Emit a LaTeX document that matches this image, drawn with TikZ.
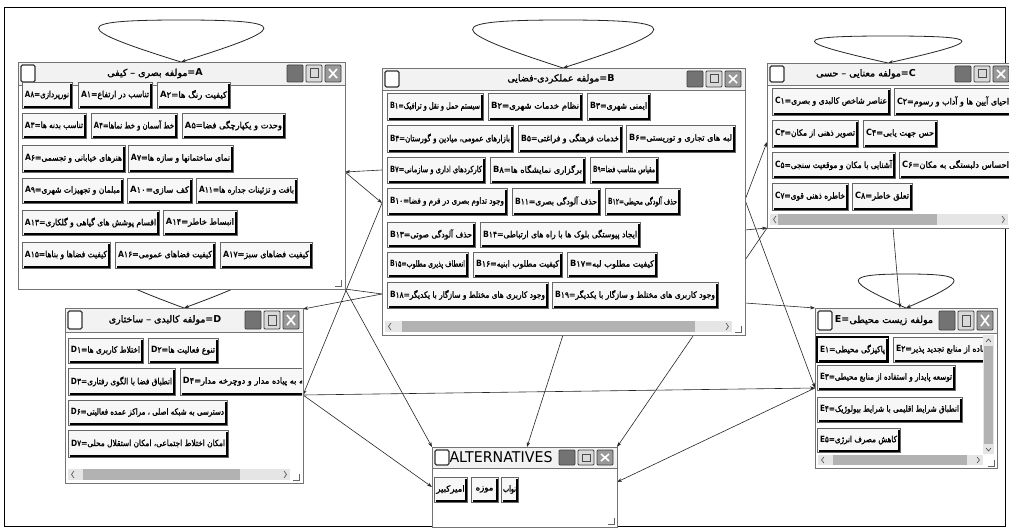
\documentclass[tikz,border=0pt]{standalone}
\usepackage{fontspec}
\usepackage{graphicx}
\usetikzlibrary{arrows.meta,calc}
\TeXXeTstate=1
\newfontfamily\pfont[Script=Arabic]{DejaVu Sans}
\newfontfamily\pfontb[Script=Arabic,FakeBold=1.5]{DejaVu Sans}
\newfontfamily\latf{DejaVu Sans}
\newsavebox\myfitbox
\newdimen\myfitw
\newcommand\myfit[2]{\myfitw=\dimexpr #1\relax\sbox\myfitbox{#2}\ifdim\wd\myfitbox>\myfitw\resizebox{\myfitw}{\height}{\usebox\myfitbox}\else\usebox\myfitbox\fi}
\newcommand\mycode[2]{\hbox{\hbox{\latf\bfseries #1}\hbox{\pfontb #2}\hbox{\pfontb =}}}
\tikzset{
 winbox/.style={draw=black!55,fill=white,line width=1.2pt,inner sep=0pt},
 titlebar/.style={draw=black!55,fill=black!5,line width=0.8pt},
 icon/.style={draw=black!80,fill=white,line width=1.3pt,rounded corners=1.5pt},
 tbtn/.style={draw=black!75,line width=0.8pt,rounded corners=1pt},
 btn/.style={draw=black!60,fill=black!3,line width=0.5pt,inner sep=0pt,font=\fontsize{8.6}{9}\selectfont},
 btnsh/.style={draw=black,line width=2.2pt},
 conn/.style={draw=black!85,line width=0.6pt},
 arr/.style={conn,-{Stealth[length=5pt,width=3.5pt]}},
 loopline/.style={draw=black!85,line width=0.8pt,-{Stealth[length=5pt,width=3.5pt]}},
 ttl/.style={inner sep=0pt,font=\fontsize{9.5}{10}\selectfont},
 scroll/.style={fill=black!10},
 thumb/.style={fill=black!30},
}
\newcommand\mywin[8]{%
 \node[winbox,anchor=north west,minimum width={(#4-#2)*1pt},minimum height={(#5-#3)*1pt}] (#1) at (#2,#3) {};
 \draw[titlebar] (#2,#3) rectangle (#4,#6);
 \draw[icon] ({#2+3},{#3+3}) rectangle ({#2+17},{#6-3});
 \draw[tbtn,fill=black!55] ({#4-58},{#3+3}) rectangle ({#4-42},{#6-3});
 \draw[tbtn,fill=black!15] ({#4-39},{#3+3}) rectangle ({#4-23},{#6-3});
 \draw[black!70,line width=1pt] ({#4-35},{#3+7}) rectangle ({#4-27},{#6-7});
 \draw[tbtn,fill=black!40] ({#4-20},{#3+3}) rectangle ({#4-4},{#6-3});
 \draw[white,line width=1.6pt] ({#4-16},{#3+7}) -- ({#4-8},{#6-7}) ({#4-16},{#6-7}) -- ({#4-8},{#3+7});
 \node[ttl] (#1title) at (#8,{(#3+#6)/2}) {#7};
}
\newcommand\mybt[8]{%
 \node[btn,minimum width={(#4-#2)*1pt},minimum height={(#5-#3)*1pt}] (#1) at ({(#2+#4)/2},{(#3+#5)/2}) {\myfit{#4pt-#2pt-6pt}{\mycode{#6}{#7}\hbox{\pfontb #8}}};
 \draw[btnsh] ([shift={(2pt,1pt)}]#1.south west) -- ([shift={(-1pt,1pt)}]#1.south east) -- ([shift={(-1pt,-2pt)}]#1.north east);
}
\newcommand\mybtp[6]{%
 \node[btn,minimum width={(#4-#2)*1pt},minimum height={(#5-#3)*1pt}] (#1) at ({(#2+#4)/2},{(#3+#5)/2}) {\myfit{#4pt-#2pt-4pt}{\pfontb #6}};
 \draw[btnsh] ([shift={(2pt,1pt)}]#1.south west) -- ([shift={(-1pt,1pt)}]#1.south east) -- ([shift={(-1pt,-2pt)}]#1.north east);
}
\newcommand\mylp[5]{%
 \coordinate (#1) at (#2,#3);
 \draw[loopline] (#1) .. controls ({#2-1.3*#4},{#3-0.8*#5}) and ({#2-1.35*#4},{#3-#5}) .. ({#2},{#3-#5}) .. controls ({#2+1.35*#4},{#3-#5}) and ({#2+1.3*#4},{#3-0.8*#5}) .. (#1);
}
\newcommand\myhscr[6]{%
 \fill[scroll] (#1,#3) rectangle (#2,#4);
 \fill[thumb] (#5,#3) rectangle (#6,#4);
 \draw[black!70,line width=0.6pt] ({#1+6},{#3+2}) -- ({#1+3.5},{(#3+#4)/2}) -- ({#1+6},{#4-2});
 \draw[black!70,line width=0.6pt] ({#2-6},{#3+2}) -- ({#2-3.5},{(#3+#4)/2}) -- ({#2-6},{#4-2});
}
\newcommand\mygrip[2]{\draw[black!60,line width=0.8pt] ({#1-6},#2) -- (#1,#2) -- (#1,{#2-6});}
\begin{document}
\begin{tikzpicture}[x=1pt,y=-1pt]
\useasboundingbox (0,0) rectangle (1009,529);
\fill[white] (0,0) rectangle (1009,529);
\clip (0,0) rectangle (1009,529);
\draw[black,line width=1pt] (4,8) rectangle (1005,526);
% self loops
\mylp{Ap}{181}{62}{83}{42}
\mylp{Bp}{563}{68}{91}{48}
\mylp{Cp}{888}{63}{74}{27}
\mylp{Dp}{184}{308}{75}{45}
\mylp{Ep}{906}{308}{48}{34}
% connector end points
\coordinate (aR) at (345,172);
\coordinate (bL7) at (382,170);
\coordinate (bL10) at (382,203);
\coordinate (aC) at (345,289);
\coordinate (bL18) at (382,294);
\coordinate (dTR) at (303,309);
\coordinate (dR) at (303,395);
\coordinate (altTL) at (432,447);
\coordinate (altL) at (432,487);
\coordinate (eL) at (815,388);
\coordinate (bBot) at (563,335);
\coordinate (altT) at (527,447);
\coordinate (cBL) at (767,228);
\coordinate (altTR) at (617,447);
\coordinate (bR12) at (745,200);
\coordinate (cL) at (767,142);
\coordinate (bR) at (745,230);
\coordinate (bR2) at (745,303);
\coordinate (eTL) at (815,308);
\coordinate (altR) at (617,482);
\coordinate (cB) at (893,228);
\coordinate (eT) at (900,308);
% connectors
\draw[arr] (bL7) -- (aR);
\draw[arr] (aR) -- (bL10);
\draw[arr] (bL10) -- (dR);
\draw[conn] (aC) -- (bL18);
\draw[arr] (bL18) -- (dTR);
\draw[arr] (aC) -- (altTL);
\draw[arr] (dR) -- (altL);
\draw[arr] (dR) -- (eL);
\draw[arr] (bBot) -- (altT);
\draw[arr] (cBL) -- (altTR);
\draw[arr] (bR12) -- (cL);
\draw[arr] (bR12) -- (eL);
\draw[arr] (bR) -- (cBL);
\draw[arr] (bR2) -- (eTL);
\draw[arr] (eL) -- (altR);
\draw[arr] (cB) -- (eT);
% ---------- window A
\mywin{A}{18}{62}{345}{289}{85}{\hbox{\pfontb\beginR مولفه بصری – کیفی\endR}\hbox{\latf\bfseries =A}}{155}
\mybt{A8}{22}{82}{72}{108}{A}{۸}{\beginR نورپردازی\endR}
\mybt{A1}{78}{82}{152}{108}{A}{۱}{\beginR تناسب در ارتفاع\endR}
\mybt{A2}{157}{82}{230}{108}{A}{۲}{\beginR کیفیت رنگ ها\endR}
\mybt{A3}{22}{113}{86}{138}{A}{۳}{\beginR تناسب بدنه ها\endR}
\mybt{A4}{91}{113}{177}{138}{A}{۴}{\beginR خط آسمان و خط نماها\endR}
\mybt{A5}{182}{113}{285}{138}{A}{۵}{\beginR وحدت و یکپارچگی فضا\endR}
\mybt{A6}{22}{145}{125}{172}{A}{۶}{\beginR هنرهای خیابانی و تجسمی\endR}
\mybt{A7}{128}{145}{233}{172}{A}{۷}{\beginR نمای ساختمانها و سازه ها\endR}
\mybt{A9}{22}{178}{123}{203}{A}{۹}{\beginR مبلمان و تجهیزات شهری\endR}
\mybt{A10}{127}{178}{192}{203}{A}{۱۰}{\beginR کف سازی\endR}
\mybt{A11}{196}{178}{297}{203}{A}{۱۱}{\beginR بافت و تزئینات جداره ها\endR}
\mybt{A13}{22}{210}{159}{235}{A}{۱۳}{\beginR اقسام پوشش های گیاهی و گلکاری\endR}
\mybt{A14}{163}{210}{237}{235}{A}{۱۴}{\beginR انبساط خاطر\endR}
\mybt{A15}{22}{242}{110}{268}{A}{۱۵}{\beginR کیفیت فضاها و بناها\endR}
\mybt{A16}{115}{242}{215}{268}{A}{۱۶}{\beginR کیفیت فضاهای عمومی\endR}
\mybt{A17}{220}{242}{312}{268}{A}{۱۷}{\beginR کیفیت فضاهای سبز\endR}
\mygrip{341}{286}
% ---------- window B
\mywin{B}{382}{68}{745}{335}{90}{\hbox{\pfontb\beginR مولفه عملکردی-فضایی\endR}\hbox{\latf\bfseries =B}}{561}
\mybt{B1}{387}{93}{483}{120}{B}{۱}{\beginR سیستم حمل و نقل و ترافیک\endR}
\mybt{B2}{488}{93}{582}{120}{B}{۲}{\beginR نظام خدمات شهری\endR}
\mybt{B3}{587}{93}{650}{120}{B}{۳}{\beginR ایمنی شهری\endR}
\mybt{B4}{387}{125}{513}{152}{B}{۴}{\beginR بازارهای عمومی، میادین و گورستان\endR}
\mybt{B5}{518}{125}{622}{152}{B}{۵}{\beginR خدمات فرهنگی و فراغتی\endR}
\mybt{B6}{626}{125}{735}{152}{B}{۶}{\beginR لبه های تجاری و توریستی\endR}
\mybt{B7}{387}{157}{485}{183}{B}{۷}{\beginR کارکردهای اداری و سازمانی\endR}
\mybt{B8}{490}{157}{585}{183}{B}{۸}{\beginR برگزاری نمایشگاه ها\endR}
\mybt{B9}{590}{157}{658}{183}{B}{۹}{\beginR مقیاس متناسب فضا\endR}
\mybt{B10}{387}{188}{507}{215}{B}{۱۰}{\beginR وجود تداوم بصری در فرم و فضا\endR}
\mybt{B11}{512}{188}{600}{215}{B}{۱۱}{\beginR حذف آلودگی بصری\endR}
\mybt{B12}{605}{188}{680}{215}{B}{۱۲}{\beginR حذف آلودگی محیطی\endR}
\mybt{B13}{387}{222}{475}{247}{B}{۱۳}{\beginR حذف آلودگی صوتی\endR}
\mybt{B14}{480}{222}{640}{247}{B}{۱۴}{\beginR ایجاد پیوستگی بلوک ها با راه های ارتباطی\endR}
\mybt{B15}{387}{252}{468}{277}{B}{۱۵}{\beginR انعطاف پذیری مطلوب\endR}
\mybt{B16}{473}{252}{562}{277}{B}{۱۶}{\beginR کیفیت مطلوب ابنیه\endR}
\mybt{B17}{567}{252}{657}{277}{B}{۱۷}{\beginR کیفیت مطلوب لبه\endR}
\mybt{B18}{387}{282}{548}{308}{B}{۱۸}{\beginR وجود کاربری های مختلط و سازگار با یکدیگر\endR}
\mybt{B19}{552}{282}{718}{308}{B}{۱۹}{\beginR وجود کاربری های مختلط و سازگار با یکدیگر\endR}
\myhscr{385}{732}{321}{332}{402}{695}
\mygrip{741}{332}
% ---------- window C
\mywin{C}{767}{63}{1013}{228}{85}{\hbox{\pfontb\beginR مولفه معنایی – حسی\endR}\hbox{\latf\bfseries =C}}{866}
\mybt{C1}{772}{88}{890}{115}{C}{۱}{\beginR عناصر شاخص کالبدی و بصری\endR}
\mybt{C2}{894}{88}{1012}{115}{C}{۲}{\beginR احیای آیین ها و آداب و رسوم\endR}
\mybt{C3}{772}{120}{858}{147}{C}{۳}{\beginR تصویر ذهنی از مکان\endR}
\mybt{C4}{863}{120}{937}{147}{C}{۴}{\beginR حس جهت یابی\endR}
\mybt{C5}{772}{152}{895}{178}{C}{۵}{\beginR آشنایی با مکان و موقعیت سنجی\endR}
\mybt{C6}{899}{152}{1012}{178}{C}{۶}{\beginR احساس دلبستگی به مکان\endR}
\mybt{C7}{772}{183}{848}{210}{C}{۷}{\beginR خاطره ذهنی قوی\endR}
\mybt{C8}{852}{183}{912}{210}{C}{۸}{\beginR تعلق خاطر\endR}
\myhscr{770}{1008}{214}{225}{778}{937}
% ---------- window D
\mywin{D}{65}{308}{303}{483}{332}{\hbox{\pfontb\beginR مولفه کالبدی – ساختاری\endR}\hbox{\latf\bfseries =D}}{165}
\begin{scope}
\clip (66,333) rectangle (302,482);
\mybt{D1}{68}{338}{143}{363}{D}{۱}{\beginR اختلاط کاربری ها\endR}
\mybt{D2}{148}{338}{218}{363}{D}{۲}{\beginR تنوع فعالیت ها\endR}
\mybt{D3}{68}{368}{175}{395}{D}{۳}{\beginR انطباق فضا با الگوی رفتاری\endR}
\mybt{D4}{180}{368}{318}{395}{D}{۴}{\beginR توجه به پیاده مدار و دوچرخه مدار\endR}
\mybt{D6}{68}{400}{227}{425}{D}{۶}{\beginR دسترسی به شبکه اصلی ، مراکز عمده فعالیتی\endR}
\mybt{D7}{68}{430}{228}{457}{D}{۷}{\beginR امکان اختلاط اجتماعی، امکان استقلال محلی\endR}
\end{scope}
\myhscr{68}{290}{469}{480}{83}{240}
\mygrip{299}{480}
% ---------- window E
\mywin{E}{815}{308}{997}{468}{333}{\hbox{\latf\bfseries E=}\hbox{\pfontb\beginR مولفه زیست محیطی\endR}}{884}
\begin{scope}
\clip (816,334) rectangle (983,467);
\mybt{E1}{817}{337}{888}{362}{E}{۱}{\beginR پاکیزگی محیطی\endR}
\mybt{E2}{893}{337}{1000}{362}{E}{۲}{\beginR استفاده از منابع تجدید پذیر\endR}
\mybt{E3}{817}{365}{955}{390}{E}{۳}{\beginR توسعه پایدار و استفاده از منابع محیطی\endR}
\mybt{E4}{817}{397}{962}{422}{E}{۴}{\beginR انطباق شرایط اقلیمی با شرایط بیولوژیک\endR}
\mybt{E5}{817}{428}{900}{452}{E}{۵}{\beginR کاهش مصرف انرژی\endR}
\end{scope}
\draw[black,line width=1.5pt] (E1.north west) rectangle (E1.south east);
\fill[scroll] (983,335) rectangle (994,454);
\fill[thumb] (984,346) rectangle (993,444);
\draw[black!70,line width=0.6pt] (986,342) -- (988.5,339) -- (991,342);
\draw[black!70,line width=0.6pt] (986,448) -- (988.5,451) -- (991,448);
\myhscr{818}{983}{455}{465}{833}{967}
\mygrip{994}{466}
% ---------- window ALTERNATIVES
\mywin{ALT}{432}{447}{617}{527}{468}{\resizebox{103pt}{11pt}{\latf ALTERNATIVES}}{501}
\mybtp{alt1}{434}{477}{467}{502}{امیرکبیر}
\mybtp{alt2}{471}{477}{498}{502}{موزه}
\mybtp{alt3}{501}{477}{518}{502}{نواب}
\mygrip{614}{524}
\end{tikzpicture}
\end{document}
